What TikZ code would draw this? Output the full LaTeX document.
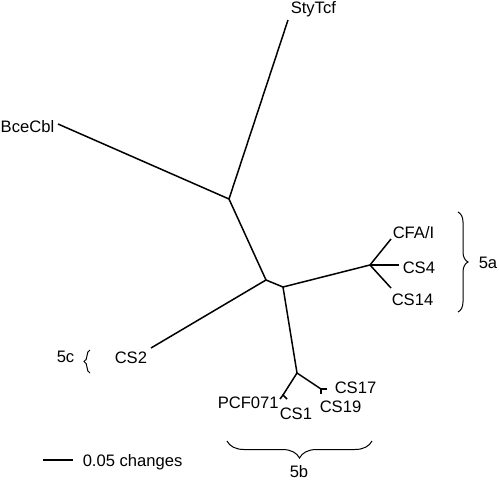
\documentclass[tikz,border=0pt]{standalone}
\usepackage{fontspec}
\setmainfont{Liberation Sans}
\usetikzlibrary{decorations.pathreplacing}

\begin{document}
\begin{tikzpicture}
[-,x=1pt,y=-1pt,line width=1.5pt,%
  every node/.style={inner sep=0pt,anchor=base west,font=\fontsize{16.6}{19}\selectfont},%
  brace/.style={decorate,line width=1pt,decoration={brace,amplitude=#1}}]
\useasboundingbox (0,0) rectangle (499,482);
% inner vertices
\coordinate (v1) at (229,199);
\coordinate (v2) at (266,280);
\coordinate (v3) at (283,287);
\coordinate (va) at (370,265);
\coordinate (vb) at (297,373);
\coordinate (vb1) at (283,395);
\coordinate (vb2) at (321,389);
% leaf ends
\coordinate (sty) at (288,20);
\coordinate (bce) at (58,124);
\coordinate (cfa) at (391,239);
\coordinate (cs4) at (399,265);
\coordinate (cs14) at (391,288);
\coordinate (cs2) at (151,348);
\coordinate (pcf) at (280,399);
\coordinate (cs1) at (287,399);
\coordinate (cs17) at (327,389);
\coordinate (cs19) at (321,394);
% labels
\node (lsty) at (290,13) {StyTcf};
\node[anchor=base east] (lbce) at (55,132) {BceCbl};
\node (lcfa) at (392,238) {CFA/I};
\node (lcs4) at (402,273) {CS4};
\node (lcs14) at (391,305) {CS14};
\node (lcs2) at (114,363) {CS2};
\node (lpcf) at (217,408) {PCF071};
\node (lcs1) at (279,419) {CS1};
\node (lcs17) at (334,393) {CS17};
\node (lcs19) at (319,412) {CS19};
\node (l5a) at (478,268) {5a};
\node (l5c) at (56,362) {5c};
\node (l5b) at (289,477) {5b};
\node (lbar) at (82,466) {0.05 changes};
% branches
\draw (sty) -- (v1) -- (bce);
\draw (v1) -- (v2) -- (cs2);
\draw (v2) -- (v3) -- (va);
\draw (va) -- (cfa);
\draw (va) -- (cs4);
\draw (va) -- (cs14);
\draw (v3) -- (vb) -- (vb1);
\draw (pcf) -- (vb1) -- (cs1);
\draw (vb) -- (vb2);
\draw (cs17) -- (vb2) -- (cs19);
% groups
\draw[brace=10pt] (458,212) -- (458,312);
\draw[brace=6pt] (90,373) -- (90,350);
\draw[brace=17pt] (372,441) -- (227,441);
% scale
\coordinate (bar1) at (43,460);
\coordinate (bar2) at (73,460);
\draw (bar1) -- (bar2);
\end{tikzpicture}
\end{document}
